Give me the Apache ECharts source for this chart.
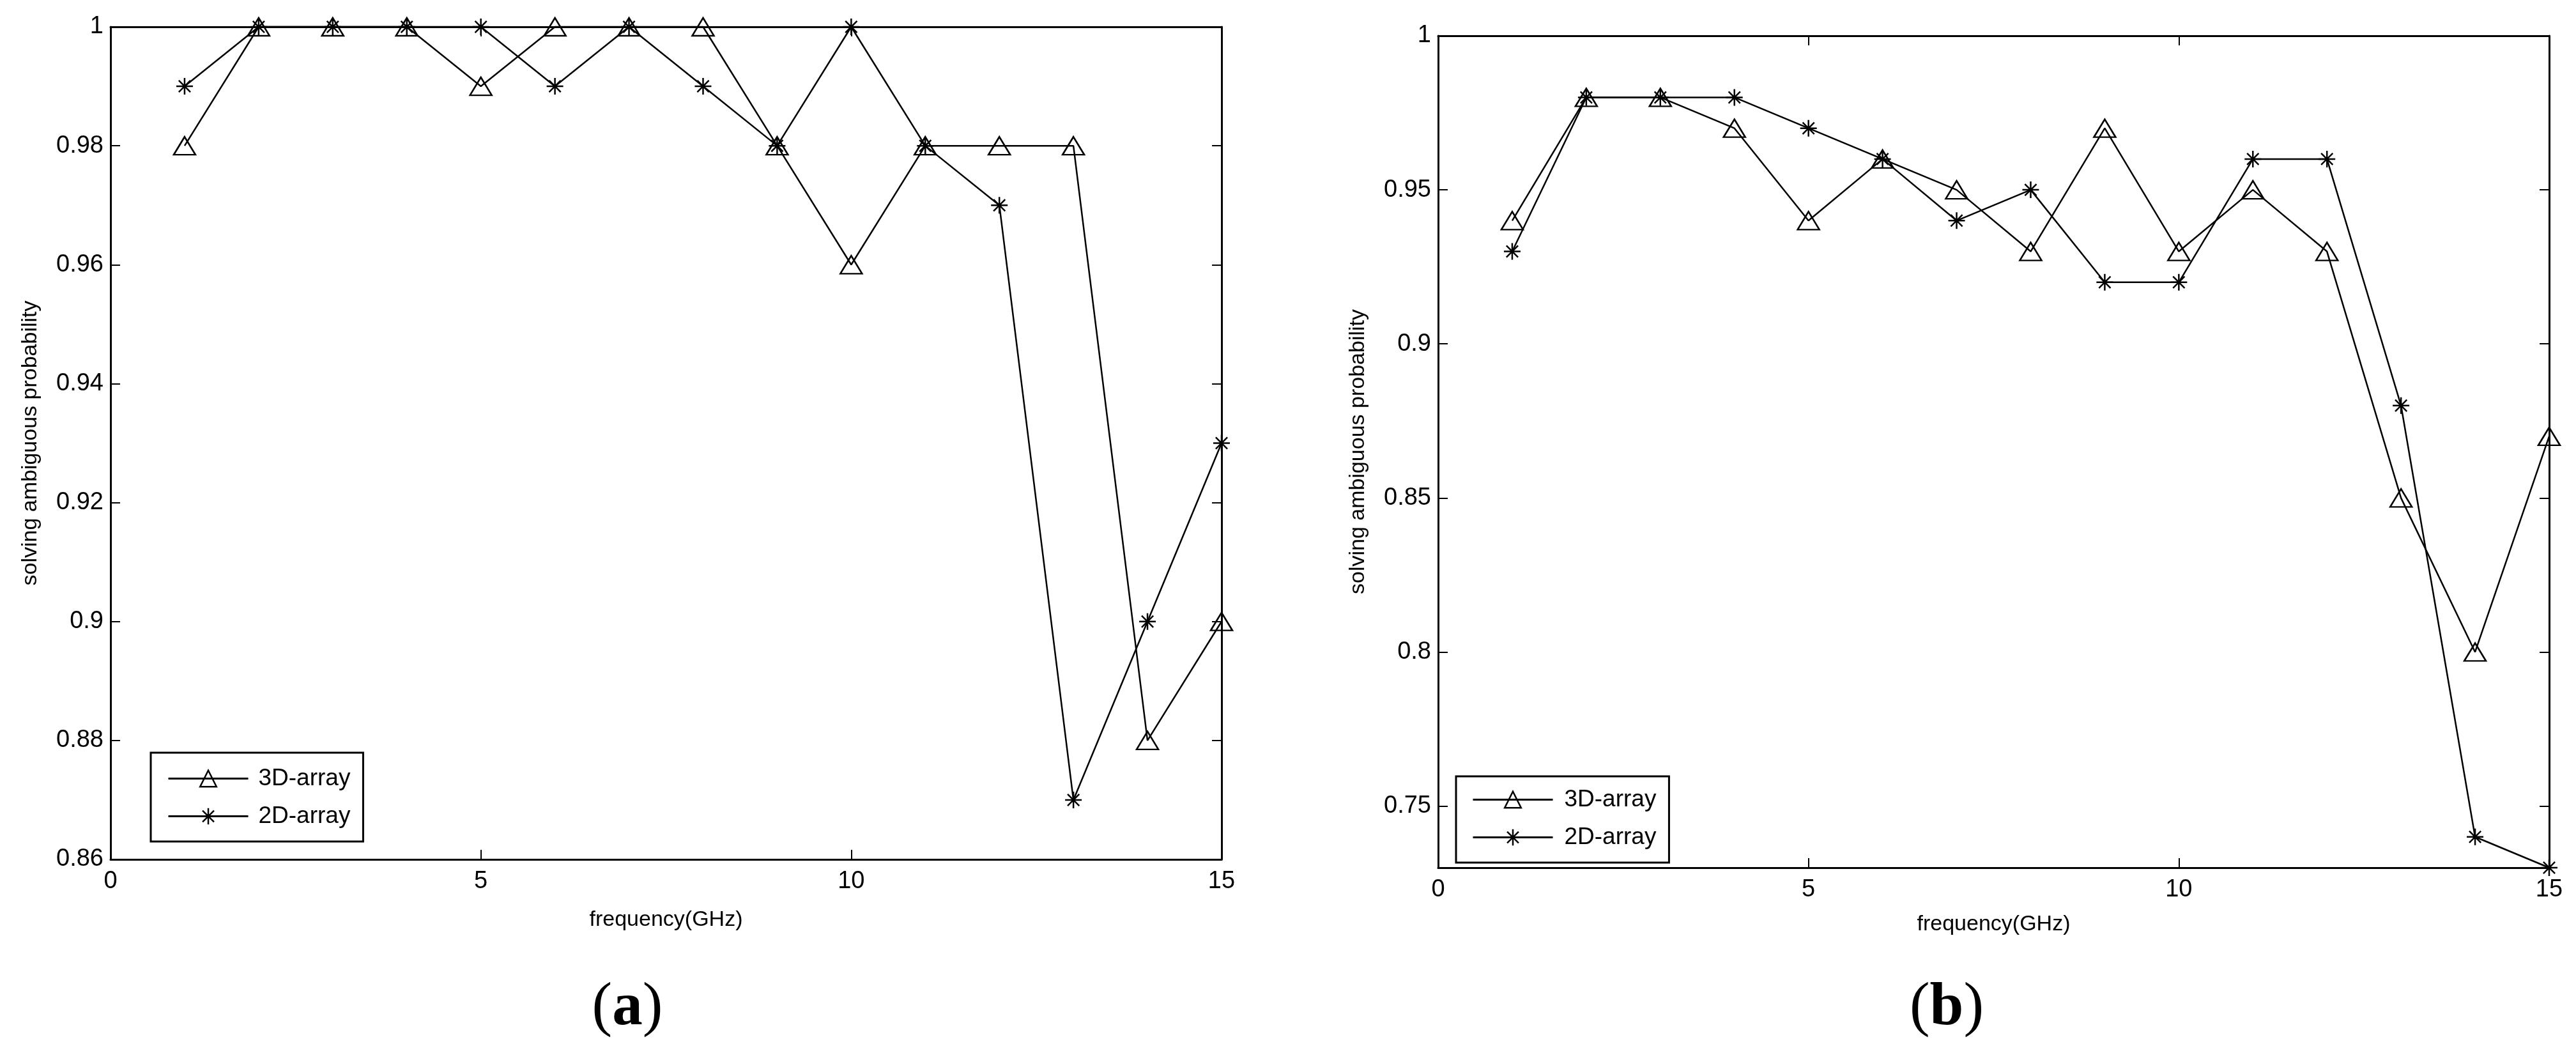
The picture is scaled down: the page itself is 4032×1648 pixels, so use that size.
<!DOCTYPE html>
<html>
<head>
<meta charset="utf-8">
<title>solving ambiguous probability</title>
<script src="https://cdn.jsdelivr.net/npm/echarts@6/dist/echarts.min.js"></script>
<style>
  html, body { margin: 0; padding: 0; background: #fff; }
  #chart { width: 4032px; height: 1648px; }
</style>
</head>
<body>
<div id="chart"></div>
<script>
// data
const freq = [1, 2, 3, 4, 5, 6, 7, 8, 9, 10, 11, 12, 13, 14, 15];
const prob3dA = [0.98, 1, 1, 1, 0.99, 1, 1, 1, 0.98, 0.96, 0.98, 0.98, 0.98, 0.88, 0.90];
const prob2dA = [0.99, 1, 1, 1, 1, 0.99, 1, 0.99, 0.98, 1, 0.98, 0.97, 0.87, 0.90, 0.93];
const prob3dB = [0.94, 0.98, 0.98, 0.97, 0.94, 0.96, 0.95, 0.93, 0.97, 0.93, 0.95, 0.93, 0.85, 0.80, 0.87];
const prob2dB = [0.93, 0.98, 0.98, 0.98, 0.97, 0.96, 0.94, 0.95, 0.92, 0.92, 0.96, 0.96, 0.88, 0.74, 0.73];
const xTicks = [0, 5, 10, 15];
const yTicksB = [0.75, 0.8, 0.85, 0.9, 0.95, 1];
const seriesNames = ['3D-array', '2D-array'];

const SANS = 'Liberation Sans, Arial, sans-serif';
const STAR = 'path://M0,-10L0,10M-10,0L10,0M-7,-7L7,7M-7,7L7,-7';

const pairs = vals => freq.map((f, i) => [f, vals[i]]);
const fmt = v => String(parseFloat(v.toFixed(2)));

const chart = echarts.init(document.getElementById('chart'));

const lineAxis = { show: true, onZero: false, lineStyle: { color: '#000', width: 3 } };
const inTick = { show: true, inside: true, length: 15, lineStyle: { color: '#000', width: 2 } };

function xAxes(grid, gap) {
  const base = {
    type: 'value', gridIndex: grid, min: xTicks[0], max: xTicks[xTicks.length - 1],
    interval: xTicks[1] - xTicks[0],
    axisLine: lineAxis, axisTick: inTick, splitLine: { show: false }
  };
  return [
    Object.assign({}, base, {
      position: 'bottom',
      axisLabel: { fontSize: 38, color: '#000', fontFamily: SANS, margin: 16 },
      name: 'frequency(GHz)', nameLocation: 'middle', nameGap: gap,
      nameTextStyle: { fontSize: 34, color: '#000', fontFamily: SANS }
    }),
    Object.assign({}, base, { position: 'top', axisLabel: { show: false } })
  ];
}

function yAxes(grid, min, extra) {
  const base = Object.assign({
    type: 'value', gridIndex: grid, min: min, max: 1,
    axisLine: lineAxis, splitLine: { show: false }
  }, extra.common);
  return [
    Object.assign({}, base, {
      position: 'left',
      axisTick: Object.assign({}, inTick, extra.tick),
      axisLabel: Object.assign({ fontSize: 38, color: '#000', fontFamily: SANS, margin: 11, formatter: fmt }, extra.tick),
      name: 'solving ambiguous probability', nameLocation: 'middle', nameGap: 108, nameRotate: 90,
      nameTextStyle: { fontSize: 34, color: '#000', fontFamily: SANS }
    }),
    Object.assign({}, base, {
      position: 'right',
      axisTick: Object.assign({}, inTick, extra.tick),
      axisLabel: { show: false }
    })
  ];
}

function makeSeries(idx, vals3d, vals2d) {
  const common = {
    type: 'line', xAxisIndex: idx * 2, yAxisIndex: idx * 2, clip: false,
    showAllSymbol: true, animation: false, silent: true,
    lineStyle: { color: '#000', width: 2.5 },
    emphasis: { disabled: true }
  };
  return [
    Object.assign({}, common, {
      name: seriesNames[0], data: pairs(vals3d),
      symbol: 'triangle', symbolSize: [34, 28],
      itemStyle: { color: 'transparent', borderColor: '#000', borderWidth: 2.5 }
    }),
    Object.assign({}, common, {
      name: seriesNames[1], data: pairs(vals2d),
      symbol: STAR, symbolSize: 26,
      itemStyle: { color: '#000', borderColor: '#000', borderWidth: 2.5 }
    })
  ];
}

function legendAt(left, top, padding, textPad) {
  return {
    data: seriesNames, orient: 'vertical', left: left, top: top,
    itemWidth: 125, itemHeight: 32, itemGap: 22, padding: padding,
    borderColor: '#000', borderWidth: 3, backgroundColor: '#fff',
    selectedMode: false,
    itemStyle: { borderColor: '#000', borderWidth: 2.5 },
    lineStyle: { color: '#000', width: 3 },
    textStyle: { fontSize: 37, color: '#000', fontFamily: SANS, padding: [0, 0, 0, textPad] }
  };
}

function panelLabel(x, letter) {
  return {
    type: 'text', x: x, y: 1578,
    style: {
      text: '{p|(}{b|' + letter + '}{p|)}',
      align: 'center', verticalAlign: 'middle',
      rich: {
        p: { fontSize: 95, fontFamily: 'Liberation Serif, Times New Roman, serif', color: '#000' },
        b: { fontSize: 95, fontWeight: 'bold', fontFamily: 'Liberation Serif, Times New Roman, serif', color: '#000' }
      }
    }
  };
}

const option = {
  backgroundColor: '#fff',
  animation: false,
  grid: [
    { left: 173, top: 42, width: 1739, height: 1303 },
    { left: 2251, top: 56, width: 1739, height: 1302 }
  ],
  xAxis: [].concat(xAxes(0, 78), xAxes(1, 72)),
  yAxis: [].concat(
    yAxes(0, 0.86, { common: { interval: 0.02 }, tick: {} }),
    yAxes(1, 0.73, { common: {}, tick: { customValues: yTicksB } })
  ),
  legend: [
    legendAt(236, 1178, [22, 20, 21, 26], 11),
    legendAt(2279, 1215, [18, 20, 21, 25], 13)
  ],
  series: [].concat(makeSeries(0, prob3dA, prob2dA), makeSeries(1, prob3dB, prob2dB)),
  graphic: [panelLabel(982, 'a'), panelLabel(3047, 'b')]
};

chart.setOption(option);
</script>
</body>
</html>
